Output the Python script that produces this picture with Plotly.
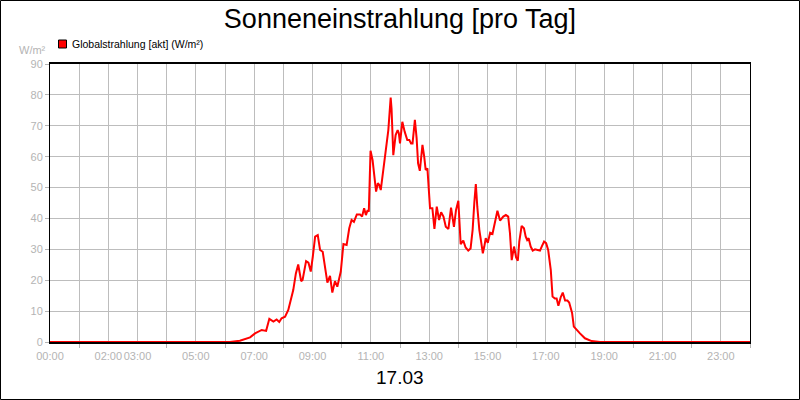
import plotly.graph_objects as go

# time of day in hours, global radiation W/m²
hours = [0.0, 6.0, 6.17, 6.51, 6.86, 7.03, 7.26, 7.41, 7.52, 7.66, 7.77, 7.86, 7.94, 8.06, 8.17,
         8.34, 8.43, 8.51, 8.61, 8.66, 8.78, 8.86, 8.94, 9.01, 9.09, 9.18, 9.26, 9.35, 9.43,
         9.51, 9.60, 9.68, 9.77, 9.85, 9.97, 10.06, 10.17, 10.26, 10.34, 10.42, 10.52, 10.63,
         10.70, 10.77, 10.83, 10.89, 10.93, 10.99, 11.06, 11.12, 11.18, 11.24, 11.29, 11.34,
         11.43, 11.52, 11.60, 11.68, 11.71, 11.77, 11.85, 11.92, 11.96, 12.00, 12.08, 12.16,
         12.25, 12.32, 12.38, 12.43, 12.51, 12.57, 12.62, 12.68, 12.77, 12.83, 12.88, 12.94,
         13.03, 13.11, 13.18, 13.26, 13.34, 13.41, 13.49, 13.57, 13.66, 13.75, 13.85, 13.92,
         14.00, 14.08, 14.17, 14.25, 14.34, 14.42, 14.49, 14.55, 14.60, 14.65, 14.72, 14.79,
         14.84, 14.89, 14.94, 15.01, 15.09, 15.17, 15.26, 15.34, 15.43, 15.54, 15.63, 15.71,
         15.77, 15.83, 15.91, 15.98, 16.04, 16.09, 16.17, 16.25, 16.31, 16.36, 16.41, 16.48,
         16.55, 16.63, 16.72, 16.80, 16.87, 16.94, 17.01, 17.08, 17.17, 17.23, 17.31, 17.37,
         17.43, 17.51, 17.58, 17.66, 17.74, 17.80, 17.90, 17.96, 18.17, 18.34, 18.57, 18.86, 24.0]
radiation = [0, 0, 0, 0.4, 1.5, 2.8, 3.9, 3.6, 7.5, 6.6, 7.3, 6.5, 7.7, 8.2, 10.4,
             16.8, 22.2, 25.1, 19.7, 20.1, 26.2, 25.7, 22.8, 27.6, 34.1, 34.6, 29.8, 29.2, 24.4,
             19.2, 21.4, 16.0, 19.7, 17.9, 22.8, 31.7, 31.4, 36.8, 39.5, 38.9, 41.3, 41.3,
             40.6, 43.3, 41.1, 42.7, 42.2, 61.9, 58.9, 54.1, 48.7, 51.4, 50.8, 49.2,
             56.2, 63.8, 68.6, 79.1, 75.6, 60.5, 67.0, 68.6, 67.6, 64.3, 71.3, 68.1,
             65.4, 65.4, 64.3, 64.3, 71.9, 65.9, 57.8, 55.4, 63.8, 60.0, 55.7, 56.2,
             43.3, 43.3, 36.6, 43.8, 39.5, 42.0, 40.6, 37.3, 36.6, 43.5, 37.3, 42.7,
             45.7, 31.7, 32.8, 30.6, 29.6, 30.3, 36.3, 45.4, 51.1, 43.8, 36.3, 31.9,
             28.7, 30.9, 33.6, 32.1, 35.4, 35.0, 39.5, 42.5, 39.3, 40.6, 41.1, 40.6,
             35.2, 26.5, 30.9, 27.4, 26.3, 32.5, 37.6, 36.8, 34.1, 33.0, 33.6, 30.9,
             29.6, 30.0, 29.8, 29.6, 31.1, 32.5, 32.0, 29.8, 23.3, 14.7, 14.1, 14.1,
             11.7, 14.5, 16.0, 13.4, 13.4, 12.8, 9.4, 5.0, 2.8, 1.2, 0.3, 0, 0]

label_hours = [0, 2, 3, 5, 7, 9, 11, 13, 15, 17, 19, 21, 23]
label_text = ["00:00", "02:00", "03:00", "05:00", "07:00", "09:00", "11:00",
              "13:00", "15:00", "17:00", "19:00", "21:00", "23:00"]
minor_hours = [1, 4, 6, 8, 10, 12, 14, 16, 18, 20, 22, 24]

title_text = "Sonneneinstrahlung [pro Tag]"
legend_text = "Globalstrahlung [akt] (W/m²)"
unit_text = "W/m²"
date_text = "17.03"

GRID = "#bdbdbd"
TICKC = "#b4b4b4"
FONT = "Liberation Sans, Arial, sans-serif"

fig = go.Figure()
fig.add_trace(go.Scatter(x=hours, y=radiation, mode="lines",
                         line=dict(color="#ff0000", width=2), showlegend=False,
                         hoverinfo="skip"))

L, R, T, B = 50, 50, 64, 58
W, H = 800, 400
pw, ph = W - L - R, H - T - B

def px_x(p):
    return (p - L) / pw

def px_y(p):
    return (H - B - p) / ph

fig.update_layout(
    width=W, height=H,
    margin=dict(l=L, r=R, t=T, b=B, pad=0),
    paper_bgcolor="white", plot_bgcolor="white",
    font=dict(family=FONT, color=TICKC, size=11),
    title=dict(text=title_text, x=0.5, xanchor="center", y=1 - 19 / H, yanchor="middle",
               font=dict(size=27, color="black", family=FONT)),
    showlegend=False,
    xaxis=dict(range=[0, 24], tickmode="array", tickvals=label_hours, ticktext=label_text,
               ticks="outside", ticklen=3, tickcolor="rgba(0,0,0,0)", tickangle=0,
               showgrid=True, gridcolor=GRID, gridwidth=1, automargin=False,
               minor=dict(tickmode="array", tickvals=minor_hours, ticks="outside",
                          ticklen=4, tickcolor=TICKC, showgrid=True, gridcolor=GRID,
                          gridwidth=1),
               showline=True, linecolor="black", linewidth=2, mirror=True,
               zeroline=False, tickfont=dict(size=11, color=TICKC, family=FONT)),
    yaxis=dict(range=[0, 90], tickmode="linear", tick0=0, dtick=10, automargin=False,
               ticks="outside", ticklen=4, tickcolor=TICKC,
               showgrid=True, gridcolor=GRID, gridwidth=1,
               showline=True, linecolor="black", linewidth=1, mirror=True,
               zeroline=False, tickfont=dict(size=11, color=TICKC, family=FONT)),
)

# outer border of the image
fig.add_shape(type="rect", xref="paper", yref="paper",
              x0=px_x(0.5), x1=px_x(W - 0.5), y0=px_y(H - 0.5), y1=px_y(0.5),
              line=dict(color="black", width=1), fillcolor="rgba(0,0,0,0)", layer="above")

# legend swatch
fig.add_shape(type="rect", xref="paper", yref="paper",
              x0=px_x(58.5), x1=px_x(66.5), y0=px_y(48), y1=px_y(40),
              line=dict(color="black", width=1), fillcolor="#ff0000")
fig.add_annotation(text=legend_text, xref="paper", yref="paper",
                   x=px_x(70), y=px_y(44), xanchor="left", yanchor="middle",
                   showarrow=False, font=dict(size=10.5, color="black", family=FONT))
fig.add_annotation(text=unit_text, xref="paper", yref="paper",
                   x=px_x(48), y=px_y(49.5), xanchor="right", yanchor="middle",
                   showarrow=False, font=dict(size=11, color=TICKC, family=FONT))
fig.add_annotation(text=date_text, xref="paper", yref="paper",
                   x=0.5, y=px_y(377), xanchor="center", yanchor="middle",
                   showarrow=False, font=dict(size=19, color="black", family=FONT))

fig.write_html("out.html", config={"displayModeBar": False},
               post_script="document.body.style.margin='0px';document.body.style.padding='0px';")
